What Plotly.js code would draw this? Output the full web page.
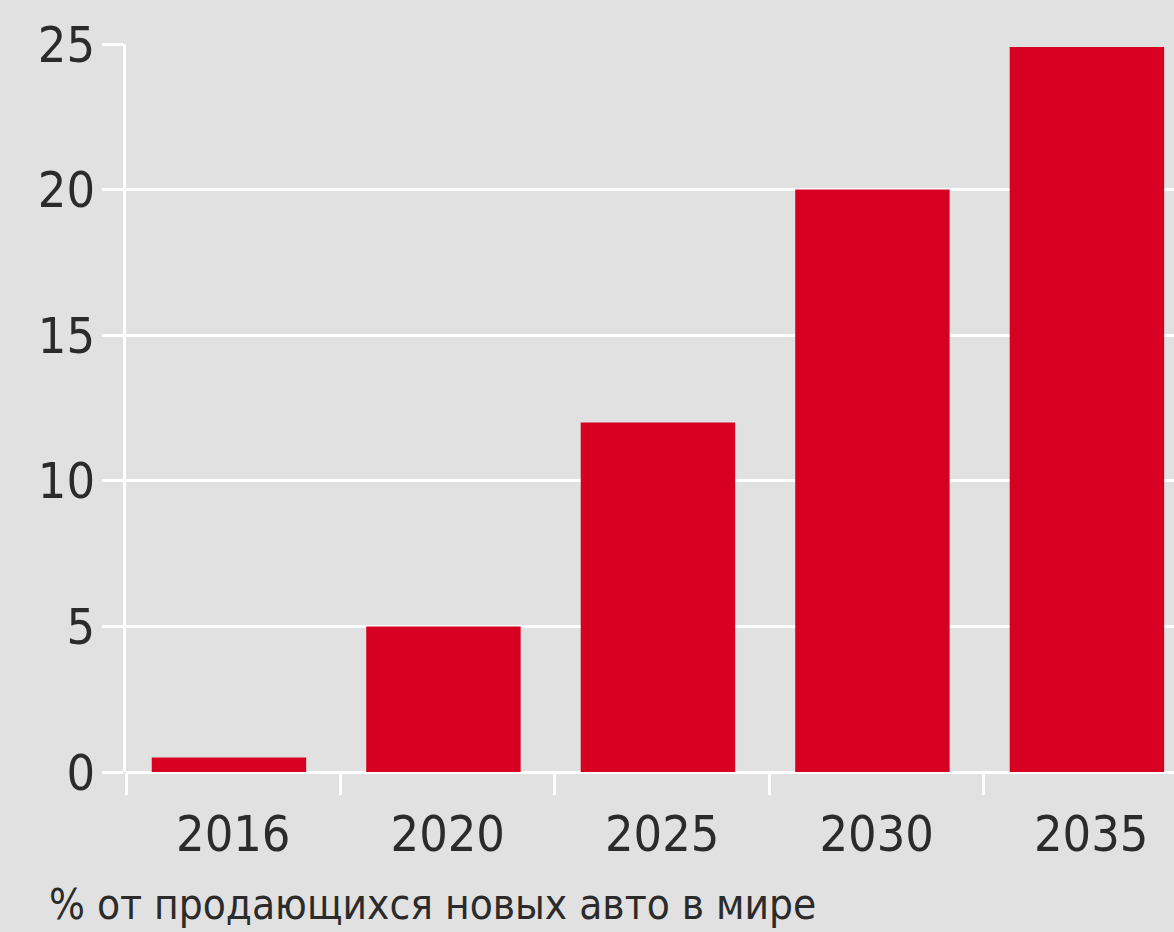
<!DOCTYPE html>
<html>
<head>
<meta charset="utf-8">
<script src="https://cdn.plot.ly/plotly-3.0.1.min.js"></script>
<style>html,body{margin:0;padding:0;background:#e1e1e1;}#chart{width:1174px;height:932px;}</style>
</head>
<body>
<div id="chart"></div>
<script>
const years = ["2016", "2020", "2025", "2030", "2035"];
const shares = [0.5, 5, 12, 20, 24.9];
const yTicks = [0, 5, 10, 15, 20, 25];
const titleText = "% от продающихся новых авто в мире";

const FONT = "'DejaVu Sans Condensed', 'Liberation Sans Narrow', 'Roboto', sans-serif";

const trace = {
  type: "bar",
  x: years,
  y: shares,
  width: 0.72,
  offset: -0.38,
  marker: {color: "#d70022", line: {width: 0}},
  hoverinfo: "x+y"
};

const layout = {
  width: 1174, height: 932,
  paper_bgcolor: "#e1e1e1",
  plot_bgcolor: "#e1e1e1",
  margin: {l: 126, r: 0, t: 44, b: 160, pad: 0},
  showlegend: false,
  font: {family: FONT, color: "#2b2b2b"},
  annotations: [{
    text: titleText,
    showarrow: false,
    font: {family: FONT, size: 42, color: "#2b2b2b"},
    xref: "paper", yref: "paper",
    x: -0.0754, xanchor: "left",
    y: -0.2185, yanchor: "bottom"
  }],
  xaxis: {
    type: "category",
    range: [-0.5, 4.386],
    tickson: "boundaries",
    ticks: "outside",
    ticklen: 22,
    tickwidth: 3,
    tickcolor: "#ffffff",
    showgrid: false,
    showline: false,
    zeroline: false,
    tickfont: {family: FONT, size: 50, color: "#2b2b2b"},
    ticklabelstandoff: 28,
    fixedrange: true
  },
  yaxis: {
    range: [0, 25],
    tickvals: yTicks,
    ticktext: yTicks.map(String),
    ticks: "outside",
    ticklen: 21,
    tickwidth: 3,
    tickcolor: "#ffffff",
    showgrid: true,
    gridcolor: "#ffffff",
    gridwidth: 3,
    zeroline: true,
    zerolinecolor: "#ffffff",
    zerolinewidth: 3,
    showline: true,
    linecolor: "#ffffff",
    linewidth: 3,
    tickfont: {family: FONT, size: 50, color: "#2b2b2b"},
    ticklabelstandoff: -3,
    fixedrange: true
  },
  bargap: 0.28
};

Plotly.newPlot("chart", [trace], layout, {displayModeBar: false, staticPlot: true});
</script>
</body>
</html>
